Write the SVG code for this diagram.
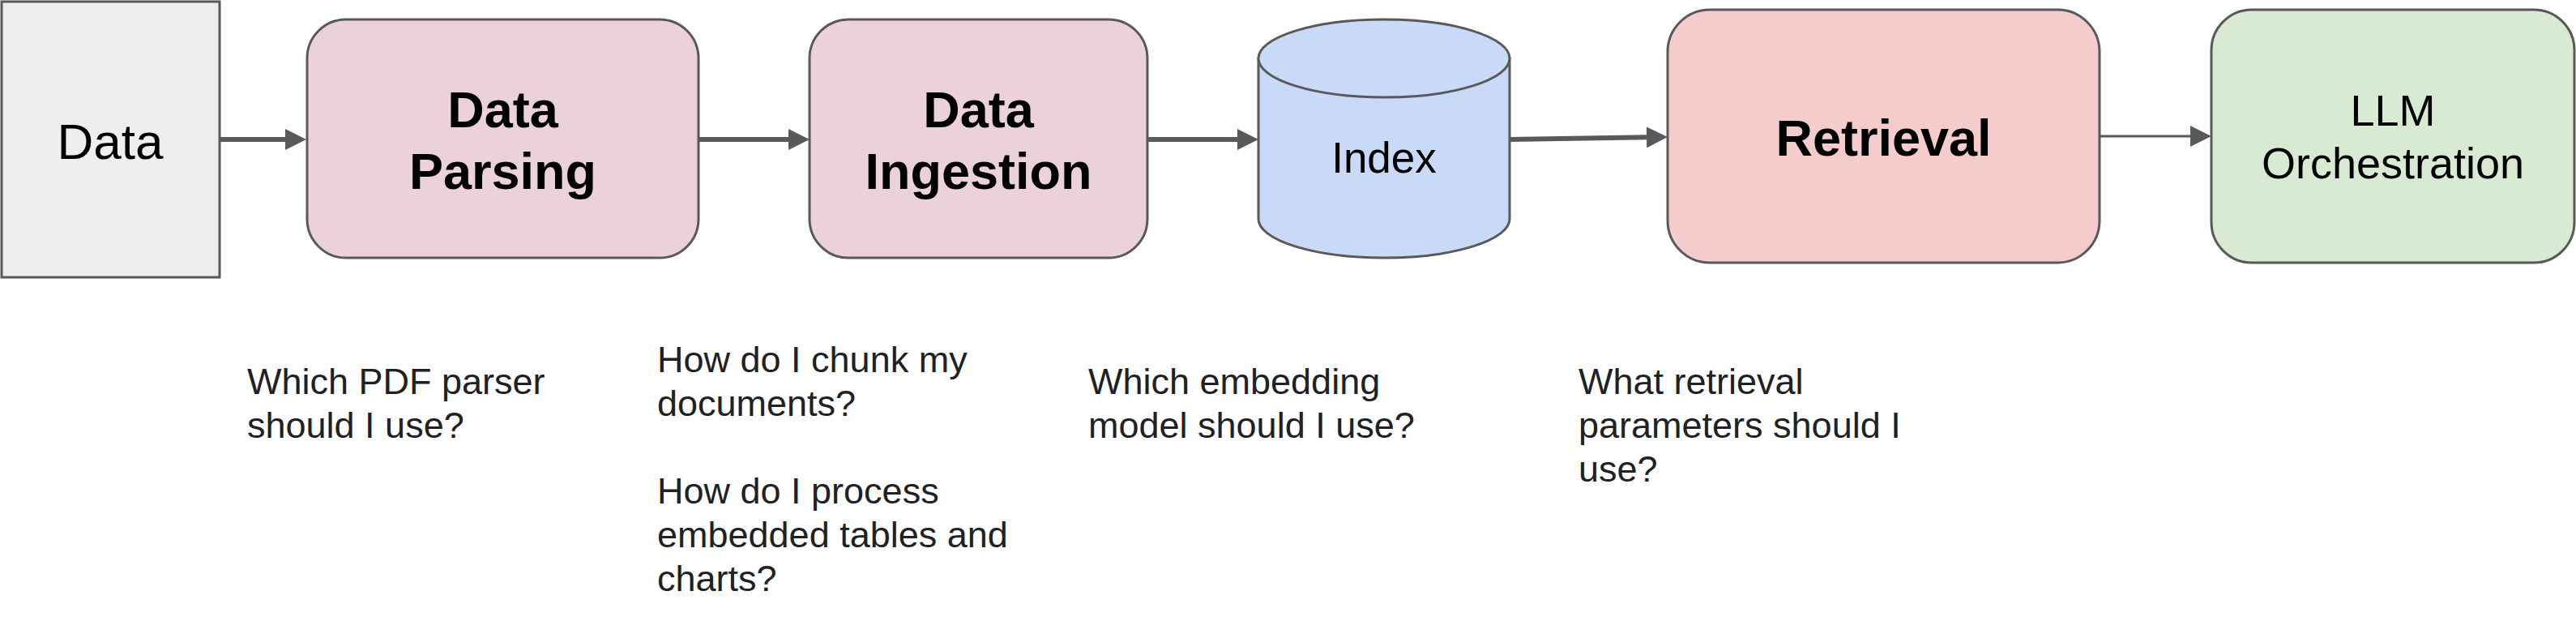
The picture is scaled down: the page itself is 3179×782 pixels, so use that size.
<svg xmlns="http://www.w3.org/2000/svg" width="3179" height="782" viewBox="0 0 3179 782">
  <style>
    .node { stroke: #595959; stroke-width: 3; }
    .lbl { font-family: "Liberation Sans", Arial, sans-serif; fill: #000000; text-anchor: middle; }
    .bold { font-weight: bold; font-size: 63px; }
    .reg { font-size: 54px; }
    .q { font-family: "Liberation Sans", Arial, sans-serif; font-size: 45px; fill: #202124; }
    .conn { stroke: #595959; fill: none; }
  </style>
  <defs>
    <marker id="arrow" markerUnits="userSpaceOnUse" viewBox="0 0 26 26" refX="6" refY="13" markerWidth="26" markerHeight="26" orient="auto">
      <path d="M0,0 L26,13 L0,26 Z" fill="#595959"/>
    </marker>
  </defs>
  <rect width="3179" height="782" fill="#ffffff"/>

  <g id="connectors">
    <line class="conn" x1="271" y1="172" x2="358" y2="172" stroke-width="6" marker-end="url(#arrow)"/>
    <line class="conn" x1="862" y1="172" x2="979" y2="172" stroke-width="6" marker-end="url(#arrow)"/>
    <line class="conn" x1="1416" y1="172" x2="1533" y2="172" stroke-width="6" marker-end="url(#arrow)"/>
    <line class="conn" x1="1863" y1="172" x2="2038" y2="169.3" stroke-width="6" marker-end="url(#arrow)"/>
    <line class="conn" x1="2591" y1="168" x2="2709" y2="168" stroke-width="3" marker-end="url(#arrow)"/>
  </g>

  <g id="node-data">
    <rect class="node" x="2" y="2" width="269" height="340" fill="#eeeeee"/>
    <text class="lbl" x="136" y="196" font-size="62">Data</text>
  </g>

  <g id="node-parsing">
    <rect class="node" x="379" y="24" width="483" height="294" rx="48" ry="48" fill="#ead1dc"/>
    <text class="lbl bold" x="620.5" y="157">Data</text>
    <text class="lbl bold" x="620.5" y="233">Parsing</text>
  </g>

  <g id="node-ingestion">
    <rect class="node" x="999" y="24" width="417" height="294" rx="48" ry="48" fill="#ead1dc"/>
    <text class="lbl bold" x="1207.5" y="157">Data</text>
    <text class="lbl bold" x="1207.5" y="233">Ingestion</text>
  </g>

  <g id="node-index">
    <path class="node" d="M1553,72 V270 A155,48 0 0 0 1863,270 V72 Z" fill="#c9daf8"/>
    <ellipse class="node" cx="1708" cy="72" rx="155" ry="48" fill="#c9daf8"/>
    <text class="lbl" x="1708" y="213" font-size="53">Index</text>
  </g>

  <g id="node-retrieval">
    <rect class="node" x="2058" y="12" width="533" height="312" rx="52" ry="52" fill="#f4cccc"/>
    <text class="lbl bold" x="2324.5" y="192">Retrieval</text>
  </g>

  <g id="node-llm">
    <rect class="node" x="2729" y="12" width="448" height="312" rx="50" ry="50" fill="#d9ead3"/>
    <text class="lbl reg" x="2953" y="155">LLM</text>
    <text class="lbl reg" x="2953" y="220">Orchestration</text>
  </g>

  <g id="questions">
    <text class="q" x="305" y="486">Which PDF parser</text>
    <text class="q" x="305" y="540">should I use?</text>

    <text class="q" x="811" y="459">How do I chunk my</text>
    <text class="q" x="811" y="513">documents?</text>
    <text class="q" x="811" y="621">How do I process</text>
    <text class="q" x="811" y="675">embedded tables and</text>
    <text class="q" x="811" y="729">charts?</text>

    <text class="q" x="1343" y="486">Which embedding</text>
    <text class="q" x="1343" y="540">model should I use?</text>

    <text class="q" x="1948" y="486">What retrieval</text>
    <text class="q" x="1948" y="540">parameters should I</text>
    <text class="q" x="1948" y="594">use?</text>
  </g>
</svg>
